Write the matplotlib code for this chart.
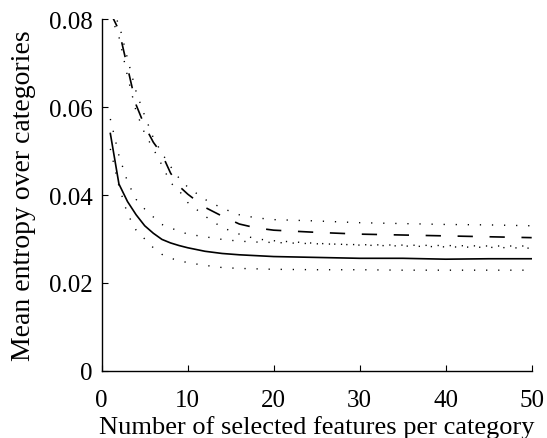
import numpy as np
import matplotlib
matplotlib.use("Agg")
import matplotlib.pyplot as plt

# ------- data -------
n_feat = [1, 2, 3, 4, 5, 6, 7, 8, 9, 10, 12, 14, 16, 18, 20, 25, 30, 35, 40, 45, 50]

solid_mean = [0.054, 0.0425, 0.0385, 0.0355, 0.033, 0.0313, 0.0299, 0.0291, 0.0285, 0.0280, 0.0272,
              0.0267, 0.0264, 0.0262, 0.0260, 0.0258, 0.0256, 0.0256, 0.0254, 0.0255, 0.0255]
solid_upper = [0.0573, 0.049, 0.043, 0.039, 0.0368, 0.035, 0.0333, 0.0325, 0.0318, 0.0311, 0.0305,
               0.0299, 0.0295, 0.0293, 0.0292, 0.0289, 0.0287, 0.0286, 0.0285, 0.0284, 0.0284]
solid_lower = [0.0505, 0.042, 0.0357, 0.032, 0.030, 0.028, 0.0265, 0.0256, 0.0251, 0.0246, 0.024,
               0.0235, 0.0233, 0.0232, 0.0231, 0.023, 0.023, 0.0229, 0.0229, 0.0229, 0.0229]

dashed_mean = [0.0815, 0.0775, 0.069, 0.0605, 0.0557, 0.052, 0.0493, 0.045, 0.042, 0.0402, 0.0372,
               0.0352, 0.0334, 0.0325, 0.032, 0.0315, 0.0311, 0.0309, 0.0307, 0.0305, 0.0303]
dashed_upper = [0.082, 0.079, 0.071, 0.0635, 0.058, 0.053, 0.0495, 0.0465, 0.0438, 0.0418, 0.039,
                0.037, 0.0355, 0.0348, 0.0344, 0.0341, 0.0337, 0.0335, 0.0333, 0.0332, 0.033]
dashed_lower = [0.081, 0.076, 0.067, 0.059, 0.054, 0.0505, 0.0468, 0.0428, 0.041, 0.0383, 0.0352,
                0.0326, 0.0311, 0.030, 0.0296, 0.029, 0.0286, 0.0284, 0.0282, 0.0281, 0.0279]

x_ticks = [0, 10, 20, 30, 40, 50]
y_ticks = [0, 0.02, 0.04, 0.06, 0.08]
y_tick_labels = ['0', '0.02', '0.04', '0.06', '0.08']

# ------- plot -------
plt.rcParams['font.family'] = ['Liberation Serif', 'DejaVu Serif']
plt.rcParams['lines.scale_dashes'] = False

fig = plt.figure(figsize=(5.47, 4.39), dpi=100)
ax = fig.add_axes([0.186, 0.153, 0.786, 0.801])

dots = (0, (0.9, 7.8))
ax.plot(n_feat, solid_mean, '-', color='k', lw=1.2)
ax.plot(n_feat, solid_upper, color='k', lw=1.0, ls=dots)
ax.plot(n_feat, solid_lower, color='k', lw=1.0, ls=dots)
ax.plot(n_feat, dashed_mean, color='k', lw=1.2, ls=(0, (11, 12)))
ax.plot(n_feat, dashed_upper, color='k', lw=1.0, ls=dots)
ax.plot(n_feat, dashed_lower, color='k', lw=1.0, ls=dots)

ax.set_xlim(0, 50)
ax.set_ylim(0, 0.08)
ax.set_xticks(x_ticks)
ax.set_yticks(y_ticks)
ax.set_yticklabels(y_tick_labels)
ax.tick_params(direction='in', length=4, width=0.8, labelsize=18)
ax.tick_params(axis='x', pad=13)
ax.tick_params(axis='y', pad=6.5)
for s in ['top', 'right']:
    ax.spines[s].set_visible(False)
for s in ['left', 'bottom']:
    ax.spines[s].set_linewidth(1.0)

ax.set_xlabel('Number of selected features per category', fontsize=19, labelpad=3)
ax.set_ylabel('Mean entropy over categories', fontsize=20, labelpad=9)

fig.savefig('out.png', dpi=100)
